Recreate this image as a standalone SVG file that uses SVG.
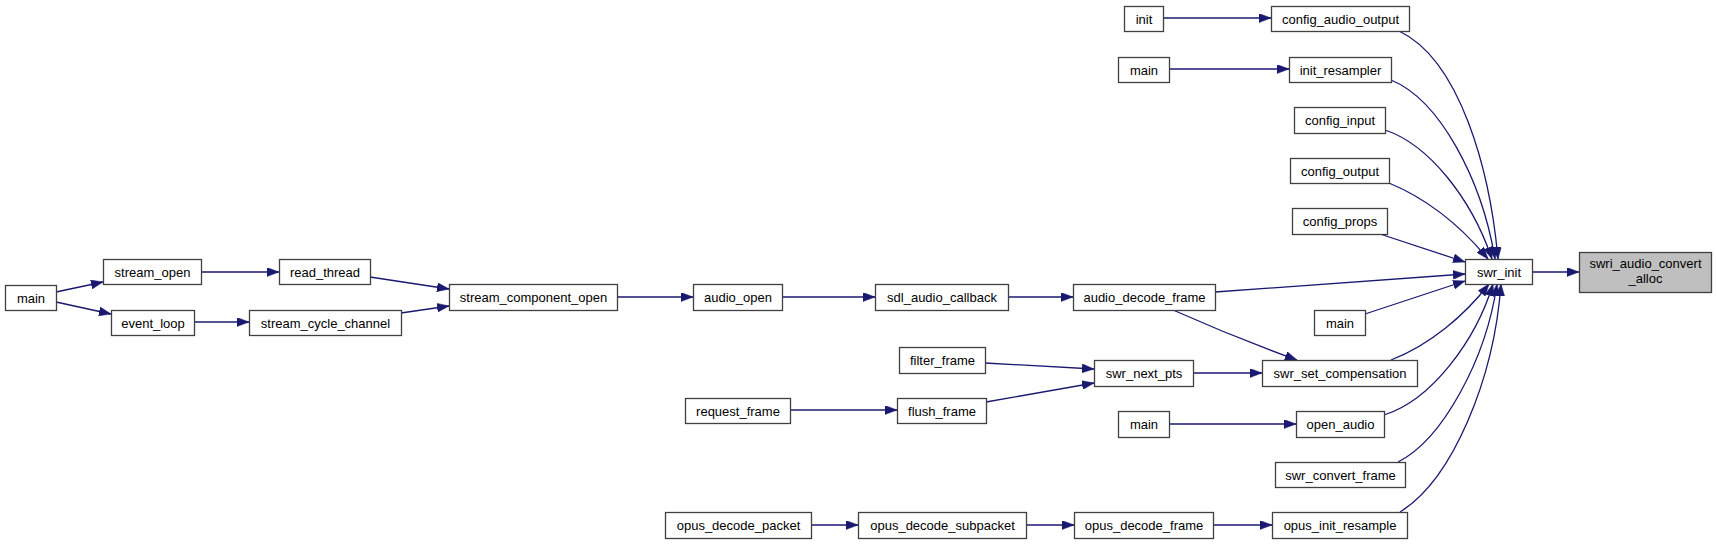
<svg xmlns="http://www.w3.org/2000/svg" width="1716" height="544" viewBox="0 0 1716 544">
<defs>
<style>
.n rect{fill:#ffffff;stroke:#404040;stroke-width:1.3}
.n.g rect{fill:#bfbfbf}
.n text{font-family:"Liberation Sans",Arial,sans-serif;font-size:13px;fill:#000;text-anchor:middle}
.e path{fill:none;stroke:#191970;stroke-width:1.3;marker-end:url(#ah)}
</style>
<marker id="ah" viewBox="0 0 12 9" refX="12" refY="4.5" markerWidth="12" markerHeight="9" markerUnits="userSpaceOnUse" orient="auto">
<path d="M0,0 L12,4.5 L0,9 z" fill="#191970" stroke="#191970" stroke-width="0.5"/>
</marker>
</defs>
<rect x="0" y="0" width="1716" height="544" fill="#ffffff"/>
<g id="connectors" class="e">
<path d="M56,292 L103,282"/>
<path d="M56,302 L111,314"/>
<path d="M201,272 L279,272"/>
<path d="M194,322 L249,322"/>
<path d="M370,277 L449,289"/>
<path d="M401,313 L449,306"/>
<path d="M617,297 L693,297"/>
<path d="M782,297 L875,297"/>
<path d="M1008,297 L1073,297"/>
<path d="M1215,292 L1465,274"/>
<path d="M1173,310 C1200,322 1250,343 1297,360"/>
<path d="M1163,18 L1271,18"/>
<path d="M1169,69 L1289,69"/>
<path d="M1399,31 C1460,60 1490,170 1498,259"/>
<path d="M1391,80 C1440,100 1482,180 1495,259"/>
<path d="M1385,130 C1430,145 1472,200 1492,259"/>
<path d="M1389,183 C1425,198 1460,225 1488,259"/>
<path d="M1380,234 L1465,262"/>
<path d="M1365,314 L1465,281"/>
<path d="M1391,360 C1430,345 1465,315 1489,284"/>
<path d="M1384,415 C1432,400 1476,340 1493,284"/>
<path d="M1398,462 C1442,440 1486,360 1497,284"/>
<path d="M1400,512 C1452,480 1494,380 1501,284"/>
<path d="M1532,272 L1579,272"/>
<path d="M985,363 L1094,369"/>
<path d="M986,402 L1094,383"/>
<path d="M1193,373 L1262,373"/>
<path d="M790,410 L897,410"/>
<path d="M1169,424 L1296,424"/>
<path d="M811,525 L858,525"/>
<path d="M1026,525 L1074,525"/>
<path d="M1213,525 L1272,525"/>
</g>
<g id="n1" class="n"><rect x="5.5" y="285.5" width="51" height="25"/><text x="31" y="302.5">main</text></g>
<g id="n2" class="n"><rect x="103.5" y="259.5" width="98" height="25"/><text x="152.5" y="276.5">stream_open</text></g>
<g id="n3" class="n"><rect x="111.5" y="310.5" width="83" height="25"/><text x="153" y="327.5">event_loop</text></g>
<g id="n4" class="n"><rect x="279.5" y="259.5" width="91" height="25"/><text x="325" y="276.5">read_thread</text></g>
<g id="n5" class="n"><rect x="249.5" y="310.5" width="152" height="25"/><text x="325.5" y="327.5">stream_cycle_channel</text></g>
<g id="n6" class="n"><rect x="449.5" y="284.5" width="168" height="26"/><text x="533.5" y="302">stream_component_open</text></g>
<g id="n7" class="n"><rect x="693.5" y="284.5" width="89" height="26"/><text x="738" y="302">audio_open</text></g>
<g id="n8" class="n"><rect x="875.5" y="284.5" width="133" height="26"/><text x="942" y="302">sdl_audio_callback</text></g>
<g id="n9" class="n"><rect x="1073.5" y="284.5" width="142" height="26"/><text x="1144.5" y="302">audio_decode_frame</text></g>
<g id="n10" class="n"><rect x="1465.5" y="259.5" width="67" height="25"/><text x="1499" y="276.5">swr_init</text></g>
<g id="n11" class="n g"><rect x="1579.5" y="252.5" width="132" height="40"/><text x="1645.5" y="268">swri_audio_convert</text><text x="1645.5" y="283">_alloc</text></g>
<g id="n12" class="n"><rect x="1124.5" y="6.5" width="39" height="25"/><text x="1144" y="23.5">init</text></g>
<g id="n13" class="n"><rect x="1271.5" y="6.5" width="138" height="25"/><text x="1340.5" y="23.5">config_audio_output</text></g>
<g id="n14" class="n"><rect x="1118.5" y="57.5" width="51" height="25"/><text x="1144" y="74.5">main</text></g>
<g id="n15" class="n"><rect x="1289.5" y="57.5" width="102" height="25"/><text x="1340.5" y="74.5">init_resampler</text></g>
<g id="n16" class="n"><rect x="1294.5" y="107.5" width="91" height="26"/><text x="1340" y="125">config_input</text></g>
<g id="n17" class="n"><rect x="1290.5" y="158.5" width="99" height="25"/><text x="1340" y="175.5">config_output</text></g>
<g id="n18" class="n"><rect x="1292.5" y="208.5" width="95" height="26"/><text x="1340" y="226">config_props</text></g>
<g id="n19" class="n"><rect x="1314.5" y="310.5" width="51" height="25"/><text x="1340" y="327.5">main</text></g>
<g id="n20" class="n"><rect x="899.5" y="347.5" width="86" height="26"/><text x="942.5" y="365">filter_frame</text></g>
<g id="n21" class="n"><rect x="1094.5" y="360.5" width="99" height="26"/><text x="1144" y="378">swr_next_pts</text></g>
<g id="n22" class="n"><rect x="1262.5" y="360.5" width="155" height="26"/><text x="1340" y="378">swr_set_compensation</text></g>
<g id="n23" class="n"><rect x="685.5" y="398.5" width="105" height="25"/><text x="738" y="415.5">request_frame</text></g>
<g id="n24" class="n"><rect x="897.5" y="398.5" width="89" height="25"/><text x="942" y="415.5">flush_frame</text></g>
<g id="n25" class="n"><rect x="1118.5" y="411.5" width="51" height="26"/><text x="1144" y="429">main</text></g>
<g id="n26" class="n"><rect x="1296.5" y="411.5" width="88" height="26"/><text x="1340.5" y="429">open_audio</text></g>
<g id="n27" class="n"><rect x="1275.5" y="462.5" width="130" height="25"/><text x="1340.5" y="479.5">swr_convert_frame</text></g>
<g id="n28" class="n"><rect x="665.5" y="512.5" width="146" height="26"/><text x="738.5" y="530">opus_decode_packet</text></g>
<g id="n29" class="n"><rect x="858.5" y="512.5" width="168" height="26"/><text x="942.5" y="530">opus_decode_subpacket</text></g>
<g id="n30" class="n"><rect x="1074.5" y="512.5" width="139" height="26"/><text x="1144" y="530">opus_decode_frame</text></g>
<g id="n31" class="n"><rect x="1272.5" y="512.5" width="135" height="26"/><text x="1340" y="530">opus_init_resample</text></g>
</svg>
